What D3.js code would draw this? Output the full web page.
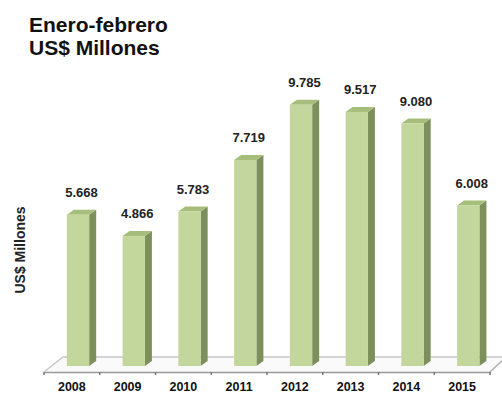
<!DOCTYPE html>
<html>
<head>
<meta charset="utf-8">
<script src="https://cdn.jsdelivr.net/npm/d3@7"></script>
<style>
  body { margin: 0; background: #fff; }
  svg { display: block; font-family: "Liberation Sans", Arial, sans-serif; }
</style>
</head>
<body>
<svg id="chart" width="502" height="393"></svg>
<script>
// data
const years = ["2008", "2009", "2010", "2011", "2012", "2013", "2014", "2015"]
const values = [5.668, 4.866, 5.783, 7.719, 9.785, 9.517, 9.080, 6.008]
const valueLabels = ["5.668", "4.866", "5.783", "7.719", "9.785", "9.517", "9.080", "6.008"]
const titleLines = ["Enero-febrero", "US$ Millones"]
const yTitle = "US$ Millones"

const svg = d3.select("#chart")

// scales: front edge of the floor runs 44..490, base of bars at 366
const x = d3.scaleBand().domain(years).range([44, 490]).padding(0)
const y = d3.scaleLinear().domain([0, 10]).range([366, 99])

const bw = x.bandwidth() * 0.4   // width of the front face
const off = x.bandwidth() * 0.41 // bars sit a bit right of the band start (3d floor)
const dx = 7, dy = 5            // depth of the bars

// floor (3d base)
const floorFront = 372, floorBack = 357
svg.append("path")
  .attr("d", `M44,${floorFront} L63,${floorBack} L506,${floorBack} L490,${floorFront} Z`)
  .attr("fill", "#fafafa")
  .attr("stroke", "none")
svg.append("path")
  .attr("d", `M44,${floorFront} L63,${floorBack} L506,${floorBack}`)
  .attr("fill", "none").attr("stroke", "#c8c8c8").attr("stroke-width", 1.5)
svg.append("path")
  .attr("d", `M506,${floorBack} L490,${floorFront}`)
  .attr("fill", "none").attr("stroke", "#b0b0b0").attr("stroke-width", 1.5)

// x axis on the front edge of the floor
const xAxis = d3.axisBottom(x).tickSize(0).tickFormat(d => d)
const gx = svg.append("g").attr("transform", `translate(0,${floorFront})`).call(xAxis)
gx.select(".domain").attr("stroke", "#999").attr("stroke-width", 1.5)
gx.selectAll("text")
  .attr("dy", null).attr("y", 19)
  .attr("fill", "#111")
  .style("font-size", "12.5px").style("font-weight", "bold")
  .style("font-family", "'Liberation Sans', Arial, sans-serif")
// small ticks at band boundaries
const bounds = years.map(d => x(d)).concat([x.range()[1]])
gx.selectAll(".bound").data(bounds).enter().append("line")
  .attr("x1", d => d).attr("x2", d => d)
  .attr("y1", 0).attr("y2", 3)
  .attr("stroke", "#777").attr("stroke-width", 1.5)

// bars
const data = years.map((yr, i) => ({ yr, v: values[i], label: valueLabels[i] }))
const bars = svg.append("g").selectAll("g").data(data).enter().append("g")

bars.append("path") // side
  .attr("d", d => {
    const x0 = x(d.yr) + off + bw, yt = y(d.v), yb = y(0)
    return `M${x0},${yt} L${x0 + dx},${yt - dy} L${x0 + dx},${yb - dy} L${x0},${yb} Z`
  })
  .attr("fill", "#7d8f5b")

bars.append("path") // top
  .attr("d", d => {
    const x0 = x(d.yr) + off, yt = y(d.v)
    return `M${x0},${yt} L${x0 + dx},${yt - dy} L${x0 + bw + dx},${yt - dy} L${x0 + bw},${yt} Z`
  })
  .attr("fill", "#a7bd7b")

bars.append("rect") // front
  .attr("x", d => x(d.yr) + off)
  .attr("y", d => y(d.v))
  .attr("width", bw)
  .attr("height", d => y(0) - y(d.v))
  .attr("fill", "#c3d69b")

bars.append("text")
  .attr("x", d => x(d.yr) + off + (bw + dx) / 2)
  .attr("y", d => y(d.v) - 18)
  .attr("text-anchor", "middle")
  .attr("fill", "#222")
  .style("font-size", "13px").style("font-weight", "bold")
  .text(d => d.label)

// titles
svg.append("g").selectAll("text").data(titleLines).enter().append("text")
  .attr("x", 29)
  .attr("y", (d, i) => 32 + i * 23)
  .attr("fill", "#111")
  .style("font-size", "21px").style("font-weight", "bold")
  .text(d => d)

svg.append("text")
  .attr("transform", "translate(25,250) rotate(-90)")
  .attr("text-anchor", "middle")
  .attr("fill", "#222")
  .style("font-size", "14px").style("font-weight", "bold")
  .text(yTitle)
</script>
</body>
</html>
